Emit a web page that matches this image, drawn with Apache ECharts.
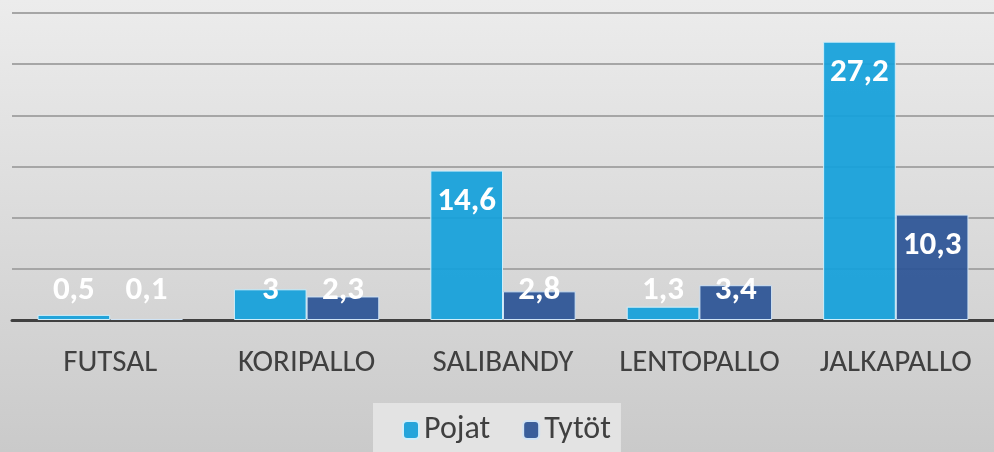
<!DOCTYPE html>
<html>
<head>
<meta charset="utf-8">
<script src="https://cdn.jsdelivr.net/npm/echarts@6/dist/echarts.min.js"></script>
<style>
html, body { margin: 0; padding: 0; }
#chart { width: 994px; height: 452px; }
</style>
</head>
<body>
<div id="chart"></div>
<script>
var lajit = ['FUTSAL', 'KORIPALLO', 'SALIBANDY', 'LENTOPALLO', 'JALKAPALLO']
var pojat = [0.5, 3, 14.6, 1.3, 27.2]
var tytot = [0.1, 2.3, 2.8, 3.4, 10.3]
var sarjat = ['Pojat', 'Tytöt']

var fontti = 'Carlito, Calibri, "Open Sans", "Noto Sans", sans-serif'

// lyhyillä pylväillä arvo näytetään pylvään yläpuolella kuten Excelissä
function arvot(lista) {
    return lista.map(function(v) {
        if (v < 6) {
            return { value: v, label: { position: 'insideBottom', distance: 13 } }
        }
        return v
    })
}

function fmt(p) {
    return String(p.value).replace('.', ',')
}

var mychart = echarts.init(document.getElementById('chart'))
mychart.setOption({
    backgroundColor: {
        type: 'linear', x: 0, y: 0, x2: 0, y2: 1,
        colorStops: [{ offset: 0, color: '#ececec' }, { offset: 1, color: '#cacaca' }]
    },
    textStyle: { fontFamily: fontti },
    legend: {
        data: sarjat,
        left: 373,
        top: 403,
        padding: [11, 10, 10, 29],
        backgroundColor: 'rgba(232,232,232,0.8)',
        itemWidth: 16,
        itemHeight: 18,
        itemGap: 32,
        textStyle: { fontSize: 32, color: '#404040', fontFamily: fontti }
    },
    grid: { left: 12, top: 13, width: 987, height: 307 },
    xAxis: {
        type: 'category',
        data: lajit,
        axisLine: { lineStyle: { color: '#404040', width: 3 } },
        axisTick: { show: false },
        axisLabel: { interval: 0, hideOverlap: false, fontSize: 31, color: '#404040', margin: 28, fontFamily: fontti }
    },
    yAxis: {
        type: 'value',
        min: 0,
        max: 30,
        interval: 5,
        axisLabel: { show: false },
        axisLine: { show: false },
        axisTick: { show: false },
        splitLine: { lineStyle: { color: '#a6a6a6', width: 2 } }
    },
    series: [{
        name: 'Pojat',
        type: 'bar',
        data: arvot(pojat),
        barGap: '0%',
        barCategoryGap: '26%',
        itemStyle: { color: 'rgba(20,160,218,0.93)', borderColor: '#cfeefa', borderWidth: 1 },
        label: {
            show: true, position: 'insideTop', distance: 15, formatter: fmt,
            color: '#fff', fontSize: 33, fontWeight: 'bold', fontFamily: fontti
        }
    }, {
        name: 'Tytöt',
        type: 'bar',
        data: arvot(tytot),
        itemStyle: { color: 'rgba(44,84,150,0.93)', borderColor: '#cfe3f5', borderWidth: 1 },
        label: {
            show: true, position: 'insideTop', distance: 15, formatter: fmt,
            color: '#fff', fontSize: 33, fontWeight: 'bold', fontFamily: fontti
        }
    }]
})
</script>
</body>
</html>
